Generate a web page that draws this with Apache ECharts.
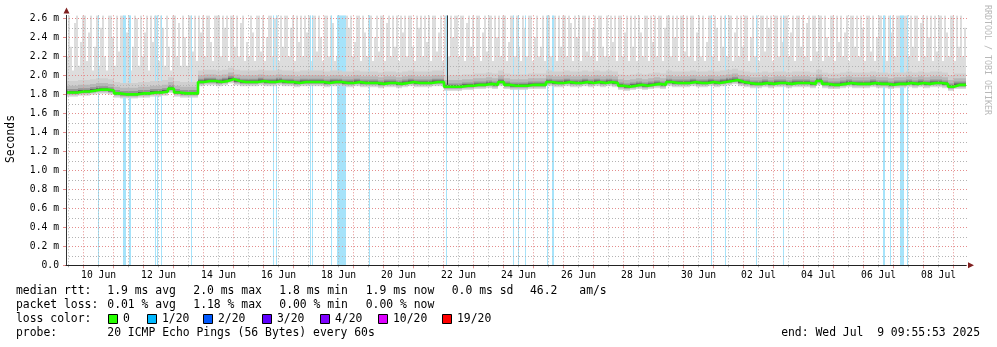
<!DOCTYPE html>
<html><head><meta charset="utf-8">
<script src="https://cdn.jsdelivr.net/npm/echarts@6/dist/echarts.min.js"></script>
<style>html,body{margin:0;padding:0;background:#fff}#c{width:997px;height:347px}</style>
</head><body><div id="c"></div>
<script>
// time unit: days relative to 10 Jun 2025 00:00; window = 30 days ending Wed Jul 9 09:55:53
const xStart = -0.586, xEnd = 29.414;
const yTopMs = 2.632;
const smokeStep = 1 / 15;  // one smoke column every 1.6 h
const medianStep = 0.2;    // one median value every 4.8 h

// top of the smoke (max ping of each column), ms — one row per day
const smokeTop = [
2.20,2.63,2.30,2.05,2.55,2.63,2.10,2.35,2.63,2.63,2.15,2.45,2.63,2.05,2.30,
2.63,2.10,2.50,2.63,2.20,2.05,2.63,2.63,2.40,2.10,2.63,2.25,2.63,2.63,2.15,
2.45,2.63,2.05,2.30,2.63,2.60,2.10,2.63,2.20,2.45,2.63,2.05,2.63,2.35,2.63,
2.63,2.15,2.63,2.50,2.10,2.63,2.30,2.05,2.63,2.63,2.20,2.55,2.10,2.63,2.40,
2.10,2.63,2.63,2.25,2.63,2.15,2.63,2.45,2.63,2.20,2.63,2.63,2.35,2.15,2.63,
2.63,2.63,2.20,2.63,2.50,2.63,2.15,2.63,2.63,2.30,2.63,2.20,2.55,2.63,2.15,
2.35,2.20,2.63,2.45,2.15,2.63,2.63,2.25,2.63,2.15,2.40,2.63,2.63,2.20,2.60,
2.63,2.15,2.63,2.30,2.63,2.63,2.20,2.50,2.63,2.15,2.63,2.35,2.63,2.20,2.63,
2.45,2.63,2.15,2.63,2.63,2.25,2.63,2.40,2.15,2.63,2.63,2.20,2.63,2.55,2.15,
2.20,2.25,2.15,2.30,2.20,2.63,2.50,2.63,2.20,2.35,2.63,2.63,2.15,2.63,2.45,
2.20,2.63,2.63,2.15,2.40,2.63,2.25,2.63,2.63,2.15,2.55,2.63,2.20,2.63,2.30,
2.63,2.15,2.63,2.45,2.63,2.20,2.63,2.63,2.30,2.15,2.63,2.50,2.63,2.20,2.63,
2.35,2.63,2.15,2.63,2.63,2.25,2.45,2.63,2.15,2.63,2.63,2.20,2.63,2.40,2.63,
2.63,2.20,2.63,2.63,2.15,2.55,2.63,2.30,2.63,2.20,2.63,2.63,2.15,2.45,2.63,
2.25,2.63,2.63,2.15,2.63,2.40,2.63,2.20,2.63,2.63,2.15,2.35,2.63,2.63,2.20,
2.63,2.30,2.15,2.63,2.50,2.20,2.63,2.63,2.15,2.40,2.63,2.20,2.30,2.63,2.15,
2.63,2.63,2.20,2.45,2.63,2.15,2.63,2.30,2.63,2.63,2.20,2.63,2.55,2.15,2.63,
2.40,2.63,2.15,2.63,2.63,2.25,2.63,2.20,2.50,2.63,2.15,2.63,2.63,2.30,2.20,
2.63,2.20,2.63,2.35,2.63,2.15,2.63,2.63,2.20,2.45,2.63,2.15,2.63,2.30,2.63,
2.15,2.63,2.45,2.20,2.63,2.63,2.15,2.63,2.35,2.63,2.20,2.63,2.63,2.15,2.50,
2.63,2.63,2.20,2.63,2.40,2.63,2.15,2.63,2.63,2.25,2.63,2.20,2.63,2.63,2.15,
2.45,2.63,2.20,2.63,2.15,2.35,2.63,2.63,2.20,2.63,2.50,2.15,2.63,2.30,2.63,
2.20,2.63,2.63,2.15,2.45,2.63,2.20,2.63,2.30,2.63,2.63,2.15,2.40,2.63,2.20,
2.63,2.15,2.63,2.63,2.25,2.63,2.50,2.63,2.15,2.63,2.63,2.20,2.63,2.35,2.63,
2.63,2.20,2.45,2.63,2.15,2.63,2.63,2.30,2.63,2.20,2.55,2.63,2.15,2.63,2.63,
2.25,2.63,2.63,2.15,2.63,2.40,2.20,2.63,2.63,2.15,2.63,2.35,2.63,2.20,2.45,
2.63,2.15,2.63,2.63,2.30,2.63,2.20,2.63,2.50,2.15,2.63,2.63,2.25,2.63,2.15,
2.40,2.63,2.63,2.20,2.63,2.15,2.63,2.45,2.63,2.20,2.63,2.63,2.15,2.35,2.63,
2.63,2.20,2.63,2.30,2.63,2.63,2.15,2.55,2.63,2.20,2.63,2.40,2.63,2.15,2.63,
2.25,2.63,2.63,2.15,2.63,2.45,2.20,2.63,2.63,2.15,2.63,2.30,2.63,2.20,2.50
];

// median rtt, ms
const medianMs = [
1.82,1.82,1.83,1.83,1.84,1.85,1.85,1.84,1.81,1.80,
1.80,1.80,1.81,1.81,1.82,1.82,1.83,1.86,1.82,1.81,
1.81,1.81,1.93,1.94,1.94,1.93,1.94,1.96,1.94,1.93,
1.93,1.93,1.94,1.93,1.93,1.94,1.93,1.93,1.92,1.93,
1.93,1.93,1.93,1.92,1.93,1.93,1.92,1.92,1.93,1.92,
1.92,1.92,1.91,1.92,1.92,1.91,1.92,1.93,1.92,1.92,
1.92,1.93,1.93,1.88,1.88,1.88,1.89,1.89,1.90,1.90,
1.91,1.90,1.93,1.90,1.89,1.89,1.89,1.90,1.90,1.90,
1.93,1.92,1.92,1.93,1.92,1.92,1.93,1.92,1.93,1.92,
1.93,1.92,1.89,1.88,1.89,1.90,1.89,1.90,1.91,1.90,
1.93,1.92,1.92,1.92,1.93,1.92,1.92,1.93,1.92,1.93,
1.94,1.95,1.93,1.92,1.91,1.91,1.92,1.91,1.92,1.92,
1.91,1.92,1.92,1.92,1.91,1.94,1.91,1.90,1.90,1.91,
1.92,1.91,1.91,1.91,1.92,1.91,1.91,1.90,1.91,1.91,
1.92,1.91,1.92,1.91,1.92,1.92,1.91,1.88,1.90,1.90
];

// periods with packet loss (start day, end day)
const lossStripes = [
[0.47,0.51],[1.32,1.40],[1.53,1.57],[2.39,2.42],[2.46,2.49],[2.57,2.60],[3.59,3.62],
[6.31,6.34],[6.42,6.45],[7.55,7.58],[7.63,7.66],[8.26,8.29],[8.45,8.74],[9.53,9.56],
[12.09,12.12],[14.30,14.33],[14.47,14.50],[14.70,14.73],[15.46,15.49],[15.63,15.68],
[20.93,20.96],[21.37,21.40],[22.43,22.46],[23.30,23.33],[26.64,26.70],[26.88,26.91],
[27.20,27.34],[27.45,27.48]
];
const restartMarks = [12.10];

const dayLabels = ['09 Jun','10 Jun','11 Jun','12 Jun','13 Jun','14 Jun','15 Jun','16 Jun','17 Jun','18 Jun',
'19 Jun','20 Jun','21 Jun','22 Jun','23 Jun','24 Jun','25 Jun','26 Jun','27 Jun','28 Jun','29 Jun','30 Jun',
'01 Jul','02 Jul','03 Jul','04 Jul','05 Jul','06 Jul','07 Jul','08 Jul'];

const lossLevels = ['0','1/20','2/20','3/20','4/20','10/20','19/20'];
const lossColors = ['#26ff00','#00b8ff','#0059ff','#5e00ff','#7e00ff','#dd00ff','#ff0000'];
const statsRtt = ['1.9 ms avg','2.0 ms max','1.8 ms min','1.9 ms now','0.0 ms sd','46.2','am/s'];
const statsLoss = ['0.01 % avg','1.18 % max','0.00 % min','0.00 % now'];
const probeText = '20 ICMP Echo Pings (56 Bytes) every 60s';
const endText = 'end: Wed Jul  9 09:55:53 2025';

const MONO = "'DejaVu Sans Mono', monospace";
const medAt = c => medianMs[Math.min(medianMs.length - 1, Math.floor((c * smokeStep + 1e-9) / medianStep))];

function rectRender(color) {
  return function (params, api) {
    const a = api.coord([api.value(0), api.value(3)]);
    const b = api.coord([api.value(1), api.value(2)]);
    const x0 = Math.round(a[0]);
    const x1 = Math.max(Math.round(b[0]), x0 + 1);
    return {type: 'rect', shape: {x: x0, y: a[1], width: x1 - x0, height: b[1] - a[1]}, style: {fill: color}};
  };
}
function rectSeries(data, color, z) {
  return {type: 'custom', xAxisIndex: 0, yAxisIndex: 0, z: z, clip: true, silent: true,
    renderItem: rectRender(color), encode: {x: [0, 1], y: [2, 3]}, data: data};
}

// smoke layers: offsets from the median (lo, hi); hi null => column top
const layers = [
  {color: '#dddddd', lo: -0.045, hi: null},
  {color: '#cfcfcf', lo: -0.035, hi: 0.12},
  {color: '#b8b8b8', lo: -0.025, hi: 0.07},
  {color: '#959595', lo: -0.015, hi: 0.035},
  {color: '#5f5f5f', lo: -0.008, hi: 0.015}
];
const smokeData = L => smokeTop.map((t, c) => {
  const m = medAt(c);
  const x0 = xStart + c * smokeStep, x1 = xStart + (c + 1) * smokeStep;
  return [x0, x1, m + L.lo, L.hi === null ? t : Math.min(t, m + L.hi)];
});
const series = [];
series.push(rectSeries(smokeData(layers[0]), layers[0].color, 1));
series.push(rectSeries(lossStripes.map(s => [s[0], s[1], 0, yTopMs]), '#a6e3fa', 1));
layers.slice(1).forEach(L => series.push(rectSeries(smokeData(L), L.color, 1)));
series.push(rectSeries(restartMarks.map(d => {
  const m = medianMs[Math.floor((d - xStart) / medianStep)];
  return [d, d + 0.03, m + 0.02, yTopMs];
}), '#333333', 4));
const medLine = medianMs.map((m, k) => [xStart + k * medianStep, m]);
medLine.push([xEnd, medianMs[medianMs.length - 1]]);
series.push({type: 'line', xAxisIndex: 0, yAxisIndex: 0, z: 5, step: 'end', symbol: 'none',
  data: medLine, lineStyle: {color: '#26ff00', width: 2.6}, silent: true});

const gridTop = 15.3, gridBottom = 347 - 265.3;
const RED = '#e48c8c', GREY = '#b3b3b3';

const graphic = [];
function txt(x, y, s, opt) {
  graphic.push(Object.assign({type: 'text', x: x, y: y, silent: true,
    style: Object.assign({text: s, font: '11.4px ' + MONO, fill: '#000', align: 'left', verticalAlign: 'middle'}, opt || {})}));
}
const colX = [107.3, 193.3, 279.3, 365.7, 451.7, 530, 579.3];
txt(16, 291, 'median rtt:');
statsRtt.forEach((s, i) => txt(colX[i], 291, s));
txt(16, 305, 'packet loss:');
statsLoss.forEach((s, i) => txt(colX[i], 305, s));
txt(16, 319, 'loss color:');
const boxX = [108, 147, 203, 262, 320, 378, 442];
lossLevels.forEach((s, i) => {
  graphic.push({type: 'rect', silent: true, shape: {x: boxX[i] + 0.5, y: 314.5, width: 9, height: 9},
    style: {fill: lossColors[i], stroke: '#000', lineWidth: 1}});
  txt(boxX[i] + 15, 319, s);
});
txt(16, 333, 'probe:');
txt(107.3, 333, probeText);
txt(980, 333, endText, {align: 'right'});
graphic.push({type: 'text', x: 11, y: 139, rotation: Math.PI / 2, silent: true,
  style: {text: 'Seconds', font: '11.4px ' + MONO, fill: '#000', align: 'center', verticalAlign: 'middle'}});
graphic.push({type: 'text', x: 987, y: 60, rotation: -Math.PI / 2, silent: true,
  style: {text: 'RRDTOOL / TOBI OETIKER', font: '8.3px ' + MONO, fill: '#b8b8b8', align: 'center', verticalAlign: 'middle'}});
// axis arrows
graphic.push({type: 'polygon', silent: true, shape: {points: [[66.5, 7.5], [63.5, 13.5], [69.5, 13.5]]}, style: {fill: '#802020'}});
graphic.push({type: 'polygon', silent: true, shape: {points: [[974, 265.3], [968, 262.3], [968, 268.3]]}, style: {fill: '#802020'}});

const chart = echarts.init(document.getElementById('c'), null, {renderer: 'canvas'});
chart.setOption({
  animation: false,
  backgroundColor: '#ffffff',
  grid: [
    {left: 66, right: 31, top: gridTop, bottom: gridBottom},
    {left: 66, right: 29, top: 18.3, bottom: gridBottom},
    {left: 83.58, right: 997 - 953.58, top: gridTop, bottom: gridBottom},
    {left: 68.58, right: 997 - 938.58, top: gridTop, bottom: gridBottom}
  ],
  xAxis: [
    {gridIndex: 0, type: 'value', min: xStart, max: xEnd, z: 6,
      axisLine: {show: true, onZero: false, lineStyle: {color: '#222', width: 1}},
      axisTick: {show: false}, axisLabel: {show: false}, splitLine: {show: false}},
    {gridIndex: 1, type: 'value', min: 0, max: 1, show: false},
    {gridIndex: 2, type: 'value', min: 0, max: 29, interval: 1, z: 3,
      axisLine: {show: false}, axisLabel: {show: false},
      axisTick: {show: true, length: 3, lineStyle: {color: RED}},
      splitLine: {show: true, lineStyle: {color: RED, width: 1, type: [1, 2]}}},
    {gridIndex: 3, type: 'category', data: dayLabels, boundaryGap: false, z: 3,
      axisLine: {show: false},
      axisTick: {show: true, interval: 0, length: 2, lineStyle: {color: GREY}},
      axisLabel: {interval: (i) => i % 2 === 1, fontFamily: MONO, fontSize: 9.7, color: '#000', margin: 5},
      splitLine: {show: true, interval: 0, lineStyle: {color: GREY, width: 1, type: [1, 2]}}}
  ],
  yAxis: [
    {gridIndex: 0, type: 'value', min: 0, max: yTopMs, z: 6,
      axisLine: {show: true, onZero: false, lineStyle: {color: '#333', width: 1}},
      axisTick: {show: false}, axisLabel: {show: false}, splitLine: {show: false}},
    {gridIndex: 1, type: 'value', min: 0, max: 2.6, interval: 0.2, z: 3,
      axisLine: {show: false},
      axisTick: {show: true, length: 3, lineStyle: {color: RED}},
      axisLabel: {formatter: v => v === 0 ? '0.0' : v.toFixed(1) + ' m', fontFamily: MONO, fontSize: 9.7, color: '#000', margin: 7},
      splitLine: {show: true, lineStyle: {color: RED, width: 1, type: [1, 2]}},
      minorTick: {show: false, splitNumber: 2},
      minorSplitLine: {show: true, lineStyle: {color: GREY, width: 1, type: [1, 2]}}},
    {gridIndex: 2, type: 'value', min: 0, max: 1, show: false},
    {gridIndex: 3, type: 'value', min: 0, max: 1, show: false}
  ],
  series: series,
  graphic: graphic
});
</script></body></html>
